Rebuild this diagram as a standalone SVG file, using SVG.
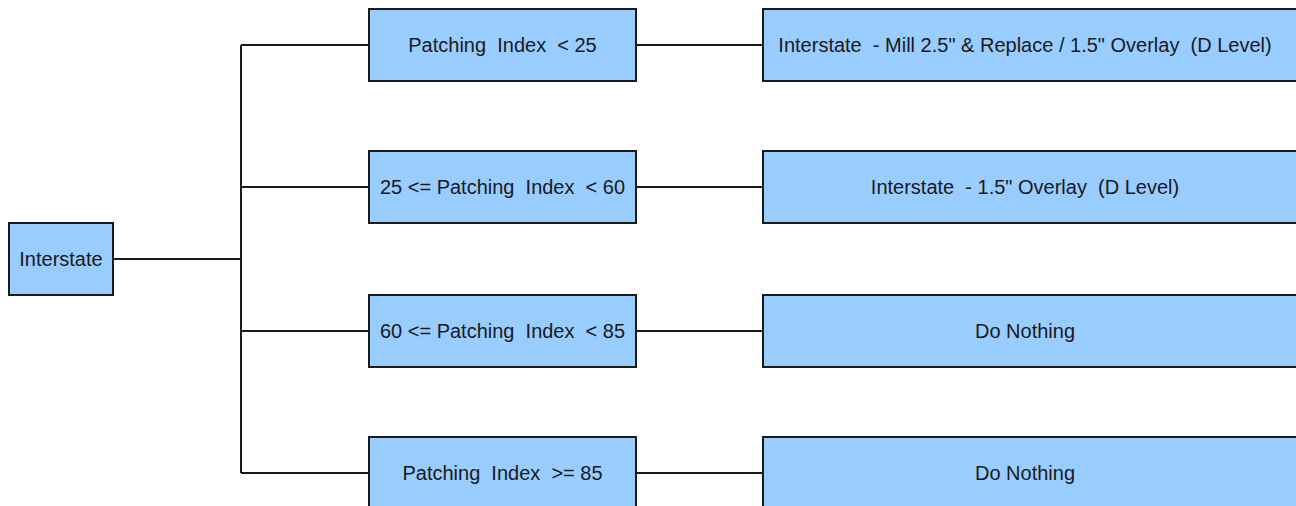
<svg xmlns="http://www.w3.org/2000/svg" width="1296" height="506" viewBox="0 0 1296 506">
<style>
.n{fill:#99ccff;stroke:#1a1a1a;stroke-width:2}
.t{font-family:"Liberation Sans",Arial,sans-serif;font-size:20px;fill:#1a1a1a;text-anchor:middle;dominant-baseline:central}
.c{fill:none;stroke:#1a1a1a;stroke-width:2}
</style>
<rect width="1296" height="506" fill="#ffffff"/>
<g id="connectors">
<path class="c" d="M113 259H241M241 45V473M241 45H369M241 187H369M241 331H369M241 473H369"/>
<path class="c" d="M636 45H763M636 187H763M636 331H763M636 473H763"/>
</g>
<g id="interstate"><rect class="n" x="9" y="223" width="104" height="72"/><text class="t" x="61" y="259">Interstate</text></g>
<g id="cond1"><rect class="n" x="369" y="9" width="267" height="72"/><text class="t" x="502.5" y="45" xml:space="preserve">Patching  Index  &lt; 25</text></g>
<g id="cond2"><rect class="n" x="369" y="151" width="267" height="72"/><text class="t" x="502.5" y="187" xml:space="preserve">25 &lt;= Patching  Index  &lt; 60</text></g>
<g id="cond3"><rect class="n" x="369" y="295" width="267" height="72"/><text class="t" x="502.5" y="331" xml:space="preserve">60 &lt;= Patching  Index  &lt; 85</text></g>
<g id="cond4"><rect class="n" x="369" y="437" width="267" height="72"/><text class="t" x="502.5" y="473" xml:space="preserve">Patching  Index  &gt;= 85</text></g>
<g id="act1"><rect class="n" x="763" y="9" width="545" height="72"/><text class="t" x="1025" y="45" xml:space="preserve">Interstate  - Mill 2.5" &amp; Replace / 1.5" Overlay  (D Level)</text></g>
<g id="act2"><rect class="n" x="763" y="151" width="545" height="72"/><text class="t" x="1025" y="187" xml:space="preserve">Interstate  - 1.5" Overlay  (D Level)</text></g>
<g id="act3"><rect class="n" x="763" y="295" width="545" height="72"/><text class="t" x="1025" y="331">Do Nothing</text></g>
<g id="act4"><rect class="n" x="763" y="437" width="545" height="72"/><text class="t" x="1025" y="473">Do Nothing</text></g>
</svg>
